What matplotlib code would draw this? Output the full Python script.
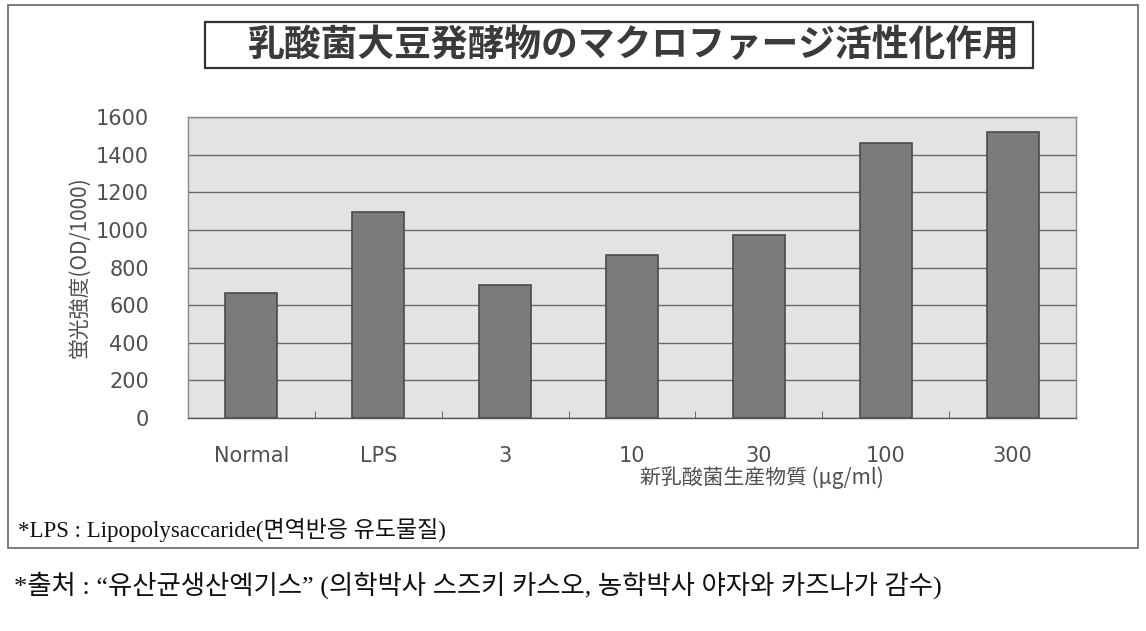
import matplotlib
matplotlib.use("Agg")
import matplotlib.pyplot as plt
from matplotlib.patches import Rectangle

categories = ["Normal", "LPS", "3", "10", "30", "100", "300"]
values = [665, 1095, 705, 865, 975, 1460, 1520]
yticks = [0, 200, 400, 600, 800, 1000, 1200, 1400, 1600]

title = "乳酸菌大豆発酵物のマクロファージ活性化作用"
ylabel = "蛍光強度(OD/1000)"
xlabel = "新乳酸菌生産物質 (μg/ml)"
note = "*LPS : Lipopolysaccaride(면역반응 유도물질)"
source = "*출처 : \u201c유산균생산엑기스\u201d (의학박사 스즈키 카스오, 농학박사 야자와 카즈나가 감수)"

W, H = 1146, 631
fig = plt.figure(figsize=(W / 100, H / 100), dpi=100)
fig.patch.set_facecolor("white")

JP = ["Noto Sans CJK JP", "DejaVu Sans"]
KR = ["Liberation Serif", "Noto Sans CJK KR", "DejaVu Sans"]
GREY_TXT = "#505050"


def px(x, y):
    # pixel coords (top-left origin) -> figure fraction
    return x / W, 1 - y / H


# outer frame and title box
x0, y0 = px(8, 548)
fig.add_artist(Rectangle((x0, y0), (1138 - 8) / W, (548 - 5) / H,
                         transform=fig.transFigure, fill=False,
                         edgecolor="#666666", lw=1.2))
tx0, ty0 = px(205, 68)
fig.add_artist(Rectangle((tx0, ty0), (1033 - 205) / W, (68 - 22) / H,
                         transform=fig.transFigure, fill=False,
                         edgecolor="#333333", lw=1.6))
fig.text(634 / W, 1 - 46 / H, title, family=JP, fontsize=26.5,
         fontweight="bold", color="#3a3a3a", ha="center", va="center")

ax = fig.add_axes([188 / W, 1 - 418 / H, (1076 - 188) / W, (418 - 117) / H])
ax.set_facecolor("#e3e3e1")
x = range(len(categories))
ax.bar(x, values, width=0.41, color="#7b7b7a", edgecolor="#4a4a4a", lw=1.2, zorder=3)
ax.set_xlim(-0.5, len(categories) - 0.5)
ax.set_ylim(0, 1600)
ax.set_yticks(yticks)
ax.yaxis.grid(True, color="#6a6a6a", lw=1.0, zorder=1)
ax.set_axisbelow(True)
for s in ax.spines.values():
    s.set_color("#888888")
    s.set_linewidth(1.0)
ax.spines["bottom"].set_color("#555555")
ax.tick_params(axis="y", length=0, pad=28, labelsize=15, labelcolor=GREY_TXT)
ax.set_xticks(list(x))
ax.set_xticklabels(categories)
ax.tick_params(axis="x", length=0, pad=20, labelsize=15, labelcolor=GREY_TXT)
for lab in ax.get_xticklabels() + ax.get_yticklabels():
    lab.set_family(["DejaVu Sans"])
ax.set_xticks([i + 0.5 for i in range(len(categories) - 1)], minor=True)
ax.tick_params(axis="x", which="minor", direction="in", length=5, color="#555555")

ax.set_ylabel(ylabel, family=JP, fontsize=15, color=GREY_TXT, labelpad=4)
fig.text(762 / W, 1 - 478 / H, xlabel, family=JP, fontsize=15,
         color=GREY_TXT, ha="center", va="center")

fig.text(18 / W, 1 - 530 / H, note, family=KR, fontsize=16.5,
         color="#111111", ha="left", va="center")
fig.text(14 / W, 1 - 585 / H, source, family=KR, fontsize=19,
         color="#111111", ha="left", va="center")

fig.savefig("out.png", dpi=100, facecolor="white")
